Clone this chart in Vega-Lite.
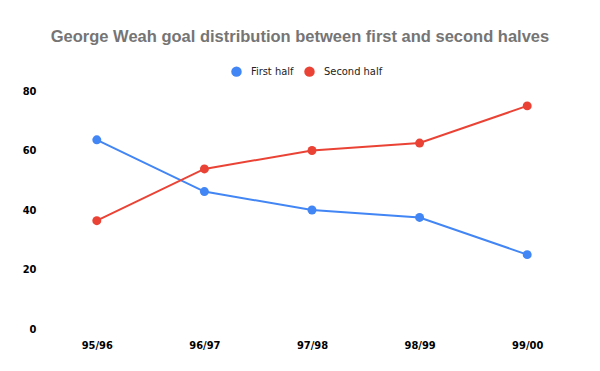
{
  "$schema": "https://vega.github.io/schema/vega-lite/v6.json",
  "autosize": "none",
  "width": 538,
  "height": 238,
  "padding": {"left": 43, "top": 91, "right": 19, "bottom": 42},
  "background": "white",
  "title": {
    "text": "George Weah goal distribution between first and second halves",
    "font": "Liberation Sans",
    "fontSize": 16.5,
    "fontWeight": "bold",
    "color": "#757575",
    "anchor": "middle",
    "dx": -12,
    "offset": 21
  },
  "data": {
    "values": [
      {"season": "95/96", "half": "First half", "pct": 63.6},
      {"season": "96/97", "half": "First half", "pct": 46.2},
      {"season": "97/98", "half": "First half", "pct": 40.0},
      {"season": "98/99", "half": "First half", "pct": 37.5},
      {"season": "99/00", "half": "First half", "pct": 25.0},
      {"season": "95/96", "half": "Second half", "pct": 36.4},
      {"season": "96/97", "half": "Second half", "pct": 53.8},
      {"season": "97/98", "half": "Second half", "pct": 60.0},
      {"season": "98/99", "half": "Second half", "pct": 62.5},
      {"season": "99/00", "half": "Second half", "pct": 75.0}
    ]
  },
  "config": {
    "view": {"stroke": null},
    "axis": {
      "labelFont": "DejaVu Sans Condensed",
      "labelFontWeight": "bold",
      "labelFontSize": 11,
      "labelColor": "#000000",
      "domain": false,
      "ticks": false,
      "grid": false,
      "title": null
    }
  },
  "encoding": {
    "x": {
      "field": "season",
      "type": "ordinal",
      "scale": {"type": "point", "padding": 0.5},
      "axis": {"labelAngle": 0, "labelPadding": 10}
    },
    "y": {
      "field": "pct",
      "type": "quantitative",
      "scale": {"domain": [0, 80]},
      "axis": {"values": [0, 20, 40, 60, 80], "labelPadding": 7}
    },
    "color": {
      "field": "half",
      "type": "nominal",
      "scale": {"domain": ["First half", "Second half"], "range": ["#4285F4", "#EA4335"]},
      "legend": {
        "title": null,
        "orient": "none",
        "direction": "horizontal",
        "legendX": 188,
        "legendY": -25,
        "symbolType": "circle",
        "symbolSize": 110,
        "symbolStrokeWidth": 0,
        "labelFont": "DejaVu Sans Condensed",
        "labelFontSize": 11,
        "labelColor": "#222222",
        "labelOffset": 9,
        "columnPadding": 10
      }
    }
  },
  "layer": [
    {"mark": {"type": "line", "strokeWidth": 2}},
    {"mark": {"type": "circle", "size": 80, "opacity": 1}}
  ]
}
